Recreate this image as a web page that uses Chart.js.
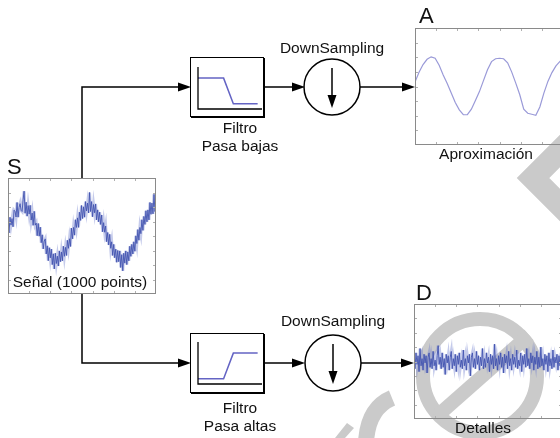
<!DOCTYPE html>
<html>
<head>
<meta charset="utf-8">
<script src="https://cdn.jsdelivr.net/npm/chart.js@4.4.1/dist/chart.umd.min.js"></script>
<style>
  html, body { margin: 0; padding: 0; background: #fff; }
  body { position: relative; width: 560px; height: 438px; overflow: hidden; }
  .layer { position: absolute; left: 0; top: 0; width: 560px; height: 438px; }
  canvas { position: absolute; }
  .block { position: absolute; width: 72px; height: 58px; border: 1.5px solid #000; box-shadow: 1px 1px 0 #000; background: #fff; }
  svg text { font-family: "Liberation Sans", Arial, sans-serif; fill: #111; }
</style>
</head>
<body>

<!-- watermark, under everything -->
<svg class="layer" width="560" height="438">
  <g stroke="#cacaca" fill="none">
    <circle cx="480" cy="376" r="57" stroke-width="14"/>
    <line x1="529" y1="335" x2="436" y2="417" stroke-width="14"/>
    <polyline points="585,126 533,178 585,230" stroke-width="23" stroke-linejoin="miter"/>
    <path d="M366 442 Q368 408 392 398" stroke-width="16"/>
  </g>
  <polygon points="335,438 347,423 354,428 345,438" fill="#cacaca"/>
</svg>

<canvas id="sigS" width="148" height="116" style="left:8px;top:178px"></canvas>
<canvas id="sigA" width="148" height="117" style="left:415px;top:28px"></canvas>
<canvas id="sigD" width="148" height="115" style="left:414px;top:304px"></canvas>

<div class="block" style="left:190px;top:57px"></div>
<div class="block" style="left:190px;top:333px"></div>
<canvas id="lowPass" width="66" height="46" style="left:196px;top:65px"></canvas>
<canvas id="highPass" width="66" height="46" style="left:196px;top:340px"></canvas>

<!-- wiring and labels -->
<svg class="layer" width="560" height="438">
  <g stroke="#000" stroke-width="1.5" fill="none">
    <path d="M82 178 V87 H180"/>
    <path d="M264 87 H294"/>
    <circle cx="332" cy="87" r="28"/>
    <path d="M332 68 V97"/>
    <path d="M360 87 H405"/>
    <path d="M82 294 V363 H180"/>
    <path d="M264 363 H294"/>
    <circle cx="333" cy="363" r="28"/>
    <path d="M333 344 V373"/>
    <path d="M361 363 H404"/>
  </g>
  <g fill="#000">
    <polygon points="191,87 178,82.5 178,91.5"/>
    <polygon points="305,87 292,82.5 292,91.5"/>
    <polygon points="332,108 327.5,95 336.5,95"/>
    <polygon points="415,87 402,82.5 402,91.5"/>
    <polygon points="191,363 178,358.5 178,367.5"/>
    <polygon points="305,363 292,358.5 292,367.5"/>
    <polygon points="333,384 328.5,371 337.5,371"/>
    <polygon points="414,363 401,358.5 401,367.5"/>
  </g>
  <g font-size="15.5" text-anchor="middle">
    <text x="332" y="53">DownSampling</text>
    <text x="333" y="326">DownSampling</text>
    <text x="240" y="133">Filtro</text>
    <text x="240" y="151">Pasa bajas</text>
    <text x="240" y="413">Filtro</text>
    <text x="240" y="431">Pasa altas</text>
    <text x="80" y="287">Señal (1000 points)</text>
    <text x="486" y="159">Aproximación</text>
    <text x="483" y="433">Detalles</text>
  </g>
  <g font-size="22">
    <text x="7" y="174">S</text>
    <text x="419" y="23">A</text>
    <text x="416" y="300">D</text>
  </g>
</svg>

<script>
// input signal S (one value per pixel column)
const S_VALUES = [
  0.76, 0.22, 1.29, 0.75, 1.20, 0.64, 1.78, 1.70, 1.31, 2.31,
  1.30, 1.97, 2.23, 1.77, 1.69, 2.50, 3.09, 1.57, 2.33, 1.37,
  2.10, 1.51, 2.11, 1.10, 1.58, 0.74, 1.70, 0.75, 0.89, 0.02,
  0.86, -0.01, 0.61, -0.46, 0.08, -0.89, -0.35, -0.20, -1.24, -0.68,
  -1.70, -0.81, -1.51, -0.90, -1.97, -1.23, -2.27, -1.19, -1.90, -1.39,
  -2.07, -1.03, -1.77, -1.10, -1.71, -0.71, -1.40, -0.78, -1.34, -0.30,
  -0.85, -0.19, -0.72, 0.54, -0.19, 0.59, 0.06, 1.12, 0.59, 1.25,
  0.60, 1.64, 1.08, 2.10, 1.21, 2.01, 1.30, 2.37, 1.73, 2.27,
  1.59, 3.00, 1.69, 2.37, 1.33, 2.17, 1.60, 2.21, 1.11, 1.80,
  0.98, 1.64, 0.80, 1.45, 0.29, 0.92, 0.26, 0.69, -0.39, 0.24,
  -0.62, 0.11, -0.85, -0.40, -1.34, -0.58, -1.50, -0.91, -1.81, -1.00,
  -1.77, -1.03, -2.17, -1.29, -2.40, -1.19, -1.87, -1.03, -1.97, -1.10,
  -1.71, -0.71, -1.40, -0.58, -1.24, -0.40, -1.05, 0.01, -0.52, 0.44,
  -0.29, 0.59, 0.16, 1.12, 0.39, 1.35, 0.80, 1.74, 0.98, 1.80,
  1.11, 2.31, 1.50, 2.27, 1.53, 2.87, 1.69, 2.20
];

// approximation A (smooth), sampled every 4 columns
const A_X = [0, 4, 8, 12, 16, 20, 24, 28, 32, 36, 40, 44, 48, 52, 56, 60, 64, 68, 72, 76,
             80, 84, 88, 92, 96, 100, 104, 108, 112, 116, 120, 124, 128, 132, 136, 140, 144, 148];
const A_VALUES = [0.31, 0.97, 1.50, 1.86, 2.03, 1.93, 1.45, 0.79, 0.20, -0.45,
                  -1.10, -1.60, -1.93, -1.93, -1.55, -0.95, -0.35, 0.40, 1.15, 1.70,
                  1.90, 1.93, 1.90, 1.62, 1.00, 0.25, -0.55, -1.55, -1.83, -1.90,
                  -1.97, -1.40, -0.45, 0.35, 0.95, 1.41, 1.72, 1.97];

// details D (high-frequency residue)
const D_VALUES = [
  0.3, -0.5, 0.6, -0.2, 0.4, -0.7, 0.9, -0.3, 0.2, -0.6,
  0.5, -0.1, 0.4, -0.8, 0.3, 0.6, -0.4, 0.2, -0.5, 0.7,
  -0.3, 0.1, -0.6, 0.4, 1.1, -0.2, 0.3, -0.5, 0.6, -0.4,
  0.2, -0.9, 0.5, -0.1, 0.4, -0.6, 0.3, 0.7, -0.5, 0.2,
  -0.3, 0.5, -0.7, 0.4, -0.2, 0.6, -0.4, 0.1, -0.5, 0.8,
  -0.3, 0.2, -0.6, 0.4, -0.1, 0.5, -1.0, 0.3, 0.6, -0.4,
  0.2, -0.5, 0.7, -0.2, 0.4, -0.6, 0.3, -0.3, 0.9, -0.5,
  0.2, -0.4, 0.6, -0.1, 0.3, -0.7, 0.5, -0.2, 0.4, -0.5,
  1.2, -0.3, 0.2, -0.6, 0.4, -0.2, 0.6, -0.4, 0.3, -0.8,
  0.5, -0.1, 0.4, -0.5, 0.7, -0.3, 0.2, -0.6, 0.5, -0.2,
  0.3, -0.4, 0.8, -0.5, 0.1, -0.3, 0.6, -0.7, 0.4, -0.2,
  0.5, -0.4, 0.9, -0.3, 0.2, -0.5, 0.6, -0.1, 0.4, -0.6,
  0.3, -0.2, 0.7, -0.5, 0.3, -0.4, 1.0, -0.3, 0.2, -0.6,
  0.5, -0.2, 0.4, -0.7, 0.6, -0.3, 0.2, -0.5, 0.8, -0.4,
  0.3, -0.1, 0.5, -0.6, 0.4, -0.3, 0.6, -0.2
];

const X_TICKS = [21, 42, 63, 84, 105, 126];
const Y_TICKS = [-3, -2, -1, 0, 1, 2, 3];

// filter responses (normalised frequency vs gain)
const LP_FREQ = [0, 1, 1.38, 2.33];
const LP_GAIN = [1, 1, 0.17, 0.17];
const HP_FREQ = [0, 1, 1.38, 2.33];
const HP_GAIN = [0.17, 0.17, 1, 1];

// grey frame with short inward ticks on all four sides
const panelFrame = {
  id: 'panelFrame',
  afterDraw(chart) {
    const { ctx, chartArea: a, scales: { x, y } } = chart;
    ctx.save();
    ctx.strokeStyle = '#b0b0b0';
    ctx.lineWidth = 1;
    ctx.beginPath();
    X_TICKS.forEach(v => {
      const px = Math.round(x.getPixelForValue(v)) + 0.5;
      ctx.moveTo(px, a.top); ctx.lineTo(px, a.top + 3);
      ctx.moveTo(px, a.bottom); ctx.lineTo(px, a.bottom - 3);
    });
    Y_TICKS.forEach(v => {
      const py = Math.round(y.getPixelForValue(v)) + 0.5;
      ctx.moveTo(a.left, py); ctx.lineTo(a.left + 3, py);
      ctx.moveTo(a.right, py); ctx.lineTo(a.right - 3, py);
    });
    ctx.stroke();
    ctx.strokeStyle = '#8a8a8a';
    ctx.strokeRect(a.left + 0.5, a.top + 0.5, a.right - a.left - 1, a.bottom - a.top - 1);
    ctx.restore();
  }
};

// black L-shaped axes of the filter icons
const iconAxes = {
  id: 'iconAxes',
  afterDraw(chart) {
    const { ctx, chartArea: a } = chart;
    ctx.save();
    ctx.strokeStyle = '#000';
    ctx.lineWidth = 1.3;
    ctx.beginPath();
    ctx.moveTo(a.left, a.top);
    ctx.lineTo(a.left, a.bottom);
    ctx.lineTo(a.right, a.bottom);
    ctx.stroke();
    ctx.restore();
  }
};

// noisy traces get a soft wide halo under a thin dark core
function signalPanel(id, xs, ys, color, width, halo) {
  const pts = xs.map((x, i) => ({ x, y: ys[i] }));
  const datasets = [];
  if (halo) {
    datasets.push({ data: pts, borderColor: halo, borderWidth: 3, pointRadius: 0, tension: 0, fill: false });
  }
  datasets.push({ data: pts, borderColor: color, borderWidth: width, pointRadius: 0, tension: 0, fill: false });
  return new Chart(document.getElementById(id), {
    type: 'line',
    data: { datasets },
    options: {
      responsive: false, animation: false, events: [],
      layout: { padding: 0 },
      plugins: { legend: { display: false }, tooltip: { enabled: false } },
      scales: {
        x: { type: 'linear', display: false, min: 0, max: 147 },
        y: { display: false, min: -4, max: 4 }
      }
    },
    plugins: [panelFrame]
  });
}

function filterIcon(id, freq, gain) {
  return new Chart(document.getElementById(id), {
    type: 'line',
    data: {
      datasets: [{
        data: freq.map((f, i) => ({ x: f, y: gain[i] })),
        borderColor: '#6464c4', borderWidth: 1.5,
        pointRadius: 0, tension: 0, fill: false
      }]
    },
    options: {
      responsive: false, animation: false, events: [],
      layout: { padding: { left: 2, top: 2, right: 0, bottom: 2 } },
      plugins: { legend: { display: false }, tooltip: { enabled: false } },
      scales: {
        x: { type: 'linear', display: false, min: 0, max: 2.5 },
        y: { display: false, min: 0, max: 1.36 }
      }
    },
    plugins: [iconAxes]
  });
}

signalPanel('sigS', S_VALUES.map((v, i) => i), S_VALUES, 'rgba(38,56,156,0.9)', 1, 'rgba(110,125,205,0.4)');
signalPanel('sigA', A_X, A_VALUES, '#9a9ad8', 1.2);
signalPanel('sigD', D_VALUES.map((v, i) => i), D_VALUES, 'rgba(38,56,156,0.9)', 1, 'rgba(110,125,205,0.4)');
filterIcon('lowPass', LP_FREQ, LP_GAIN);
filterIcon('highPass', HP_FREQ, HP_GAIN);
</script>
</body>
</html>
